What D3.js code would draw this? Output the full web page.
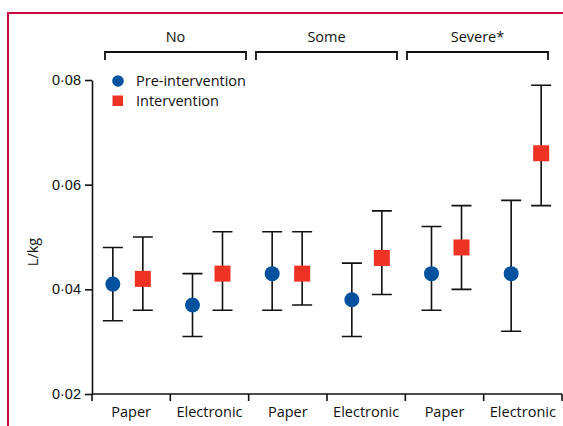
<!DOCTYPE html>
<html>
<head>
<meta charset="utf-8">
<script src="https://cdn.jsdelivr.net/npm/d3@7"></script>
<style>
  html, body { margin: 0; padding: 0; background: #fff; }
  svg { display: block; font-family: "Open Sans", "Noto Sans", sans-serif; }
</style>
</head>
<body>
<svg width="563" height="426"></svg>
<script>
// data
const groups = ["No", "Some", "Severe*"];
const records = ["Paper", "Electronic"];
const yTicks = [0.02, 0.04, 0.06, 0.08];

// one entry per column: No/Paper, No/Electronic, Some/Paper, ...
const preMean = [0.041, 0.037, 0.043, 0.038, 0.043, 0.043];
const preLow  = [0.034, 0.031, 0.036, 0.031, 0.036, 0.032];
const preHigh = [0.048, 0.043, 0.051, 0.045, 0.052, 0.057];

const intMean = [0.042, 0.043, 0.043, 0.046, 0.048, 0.066];
const intLow  = [0.036, 0.036, 0.037, 0.039, 0.040, 0.056];
const intHigh = [0.050, 0.051, 0.051, 0.055, 0.056, 0.079];

const blue = "#00519e";
const red = "#ee3224";
const ink = "#111";

const svg = d3.select("svg");

// pink frame (top and left)
svg.append("path")
  .attr("d", "M8,426V13H563")
  .attr("fill", "none")
  .attr("stroke", "#c8083f")
  .attr("stroke-width", 2);

const cols = d3.range(6);
const x = d3.scaleBand().domain(cols).range([92, 562]);
const xPts = d3.scaleBand().domain(cols).range([88, 566]);
const xGroup = d3.scaleBand().domain(groups).range([105, 548]).paddingInner(0.066);
const y = d3.scaleLinear().domain([0.02, 0.08]).range([394, 80]);

const fmt = d => d3.format(".2f")(d).replace(".", "·");

// y axis
const yAxis = svg.append("g")
  .attr("transform", "translate(92,0)")
  .call(d3.axisLeft(y).tickValues(yTicks).tickFormat(fmt).tickSize(7).tickPadding(4).tickSizeOuter(0));
yAxis.select(".domain").attr("stroke", ink).attr("stroke-width", 1.6);
yAxis.selectAll(".tick line").attr("stroke", ink).attr("stroke-width", 1.6);
yAxis.selectAll(".tick text").attr("font-size", 14.5).attr("fill", ink).attr("font-family", null);

svg.append("text")
  .attr("transform", "translate(38,252) rotate(-90)")
  .attr("text-anchor", "middle")
  .attr("font-size", 14.5)
  .attr("fill", ink)
  .text("L/kg");

// x axis with tick marks at band edges
const xAxis = svg.append("g").attr("transform", "translate(0,394)");
xAxis.append("line")
  .attr("x1", 92).attr("x2", 562)
  .attr("stroke", ink).attr("stroke-width", 1.6);
xAxis.selectAll("line.edge")
  .data(d3.range(7))
  .join("line")
  .attr("class", "edge")
  .attr("x1", i => i < 6 ? x(i) : x(5) + x.bandwidth())
  .attr("x2", i => i < 6 ? x(i) : x(5) + x.bandwidth())
  .attr("y1", 0).attr("y2", 7)
  .attr("stroke", ink).attr("stroke-width", 1.6);
xAxis.selectAll("text")
  .data(cols)
  .join("text")
  .attr("x", i => x(i) + x.bandwidth() / 2)
  .attr("y", 23)
  .attr("text-anchor", "middle")
  .attr("font-size", 14.5)
  .attr("fill", ink)
  .text(i => records[i % 2]);

// group brackets on top
const brackets = svg.append("g");
groups.forEach(g => {
  const x0 = xGroup(g);
  const x1 = x0 + xGroup.bandwidth();
  brackets.append("path")
    .attr("d", `M${x0},60V52H${x1}V60`)
    .attr("fill", "none")
    .attr("stroke", ink)
    .attr("stroke-width", 1.8);
  brackets.append("text")
    .attr("x", (x0 + x1) / 2)
    .attr("y", 42)
    .attr("text-anchor", "middle")
    .attr("font-size", 14.5)
    .attr("fill", ink)
    .text(g);
});

// error bars + markers
const series = [
  { mean: preMean, low: preLow, high: preHigh, dx: -15, shape: "circle" },
  { mean: intMean, low: intLow, high: intHigh, dx: 15, shape: "square" }
];

series.forEach(s => {
  const g = svg.append("g");
  const cx = i => xPts(i) + xPts.bandwidth() / 2 + s.dx;
  g.selectAll("path.err")
    .data(cols)
    .join("path")
    .attr("class", "err")
    .attr("d", i => `M${cx(i) - 10},${y(s.high[i])}H${cx(i) + 10}M${cx(i)},${y(s.high[i])}V${y(s.low[i])}M${cx(i) - 10},${y(s.low[i])}H${cx(i) + 10}`)
    .attr("fill", "none")
    .attr("stroke", ink)
    .attr("stroke-width", 1.6);
  if (s.shape === "circle") {
    g.selectAll("circle")
      .data(cols)
      .join("circle")
      .attr("cx", cx)
      .attr("cy", i => y(s.mean[i]))
      .attr("r", 7.5)
      .attr("fill", blue);
  } else {
    g.selectAll("rect")
      .data(cols)
      .join("rect")
      .attr("x", i => cx(i) - 8)
      .attr("y", i => y(s.mean[i]) - 8)
      .attr("width", 16)
      .attr("height", 16)
      .attr("fill", red);
  }
});

// legend
const legend = svg.append("g");
legend.append("circle").attr("cx", 118).attr("cy", 81).attr("r", 5.8).attr("fill", blue);
legend.append("rect").attr("x", 112.5).attr("y", 95.5).attr("width", 10.5).attr("height", 10.5).attr("fill", red);
legend.append("text").attr("x", 136).attr("y", 86).attr("font-size", 14.5).attr("fill", ink).text("Pre-intervention");
legend.append("text").attr("x", 136).attr("y", 106).attr("font-size", 14.5).attr("fill", ink).text("Intervention");
</script>
</body>
</html>
